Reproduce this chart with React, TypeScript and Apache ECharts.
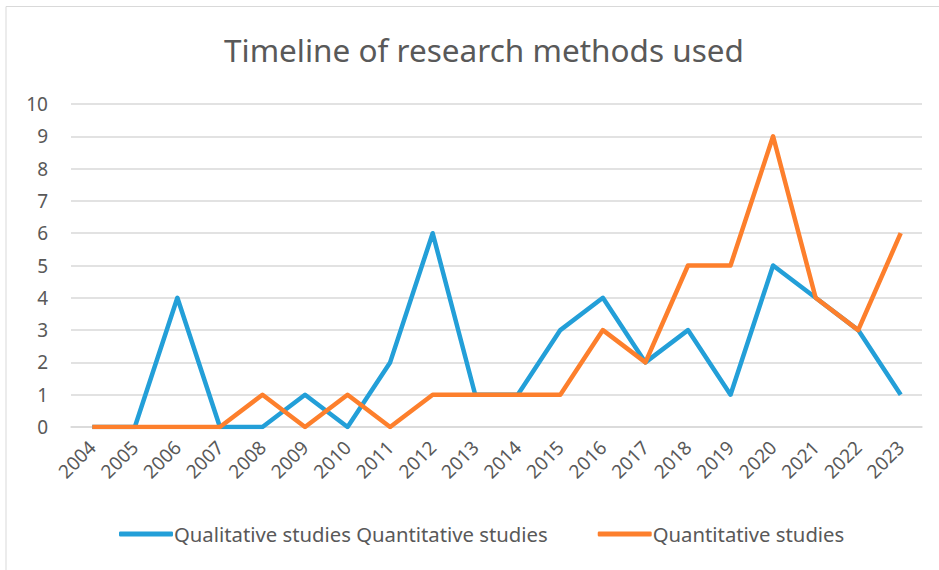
import React, { useEffect, useRef } from "react";
import * as echarts from "echarts";

const years = ["2004","2005","2006","2007","2008","2009","2010","2011","2012","2013","2014","2015","2016","2017","2018","2019","2020","2021","2022","2023"];
const qualitative = [0,0,4,0,0,1,0,2,6,1,1,3,4,2,3,1,5,4,3,1];
const quantitative = [0,0,0,0,1,0,1,0,1,1,1,1,3,2,5,5,9,4,3,6];
const seriesNames = ["Qualitative studies Quantitative studies", "Quantitative studies"];
const titleText = "Timeline of research methods used";

const FONT = "'Noto Sans', 'Open Sans', sans-serif";
const TXT = "#595959";

export default function App() {
  const ref = useRef<HTMLDivElement>(null);
  useEffect(() => {
    if (!ref.current) return;
    const chart = echarts.init(ref.current, null, { renderer: "svg" });
    chart.setOption({
      animation: false,
      backgroundColor: "#ffffff",
      title: {
        text: titleText,
        left: 219,
        top: 28,
        textStyle: { fontFamily: FONT, fontSize: 31.5, fontWeight: "normal", color: TXT },
      },
      graphic: [
        {
          type: "rect",
          shape: { x: 6, y: 6.5, width: 940, height: 570 },
          style: { fill: "none", stroke: "#d9d9d9", lineWidth: 1 },
          silent: true,
        },
      ],
      grid: { left: 71, right: 17, top: 104, bottom: 143, containLabel: false },
      legend: {
        bottom: 21,
        left: 114,
        itemGap: 50,
        itemWidth: 54,
        itemHeight: 5,
        icon: "roundRect",
        textStyle: { fontFamily: FONT, fontSize: 20.3, color: TXT, padding: [0, 0, 0, -4] },
        data: seriesNames,
      },
      xAxis: {
        type: "category",
        data: years,
        boundaryGap: true,
        axisLine: { show: true, lineStyle: { color: "#d9d9d9", width: 1.5 } },
        axisTick: { show: false },
        axisLabel: { rotate: 45, fontFamily: FONT, fontSize: 19, color: TXT, margin: 17, interval: 0 },
      },
      yAxis: {
        type: "value",
        min: 0,
        max: 10,
        interval: 1,
        axisLine: { show: false },
        axisTick: { show: false },
        splitLine: { lineStyle: { color: "#d9d9d9", width: 1.5 } },
        axisLabel: { fontFamily: FONT, fontSize: 19, color: TXT, margin: 23 },
      },
      series: [
        {
          name: seriesNames[0],
          type: "line",
          data: qualitative,
          symbol: "none",
          lineStyle: { color: "#239fd8", width: 4.5, join: "round" },
          itemStyle: { color: "#239fd8" },
        },
        {
          name: seriesNames[1],
          type: "line",
          data: quantitative,
          symbol: "none",
          lineStyle: { color: "#fd7f2c", width: 4.5, join: "round" },
          itemStyle: { color: "#fd7f2c" },
        },
      ],
    });
    return () => chart.dispose();
  }, []);
  return (
    <div
      ref={ref}
      style={{ position: "fixed", left: 0, top: 0, width: 939, height: 570 }}
    />
  );
}
